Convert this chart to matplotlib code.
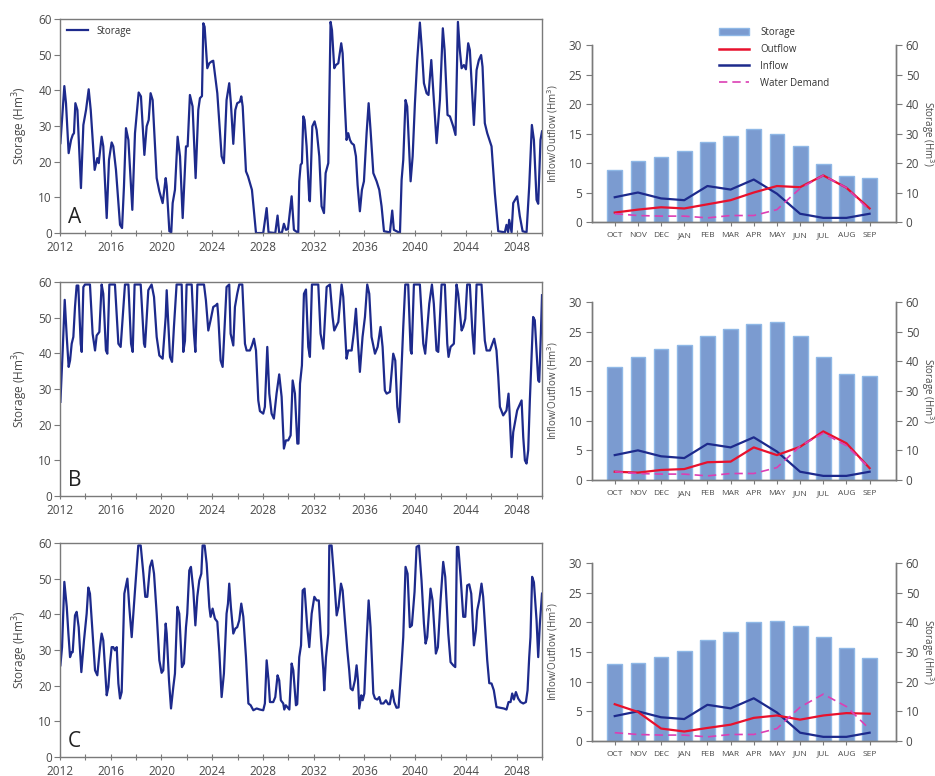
import numpy as np
import matplotlib.pyplot as plt
from matplotlib.patches import Patch
from matplotlib.lines import Line2D

plt.rcParams['font.family'] = ['Open Sans', 'DejaVu Sans']

# ---- 时间序列 (年, 库容 Hm3) ----
yr_A = [2012.03, 2012.13, 2012.34, 2012.47, 2012.68, 2012.87, 2013.0, 2013.1, 2013.21, 2013.37,
        2013.65, 2013.84, 2014.05, 2014.26, 2014.42, 2014.73, 2014.94, 2015.05, 2015.28, 2015.41,
        2015.68, 2015.86, 2016.07, 2016.2, 2016.41, 2016.73, 2016.89, 2017.04, 2017.2, 2017.39,
        2017.7, 2017.91, 2018.2, 2018.38, 2018.65, 2018.83, 2018.99, 2019.14, 2019.3, 2019.62,
        2019.83, 2020.09, 2020.33, 2020.41, 2020.62, 2020.77, 2020.88, 2021.06, 2021.27, 2021.46,
        2021.67, 2021.93, 2022.06, 2022.24, 2022.45, 2022.69, 2022.9, 2023.03, 2023.19, 2023.3,
        2023.4, 2023.61, 2023.77, 2023.95, 2024.08, 2024.4, 2024.74, 2024.92, 2025.13, 2025.24,
        2025.34, 2025.47, 2025.66, 2025.82, 2025.97, 2026.18, 2026.29, 2026.4, 2026.66, 2026.82,
        2027.13, 2027.45, 2028.02, 2028.29, 2028.44, 2028.97, 2029.15, 2029.28, 2029.5, 2029.65,
        2029.81, 2029.97, 2030.26, 2030.44, 2030.78, 2030.86, 2030.97, 2031.07, 2031.18, 2031.28,
        2031.44, 2031.65, 2031.7, 2031.89, 2032.07, 2032.23, 2032.44, 2032.62, 2032.81, 2032.94,
        2033.15, 2033.33, 2033.44, 2033.62, 2033.75, 2033.94, 2034.17, 2034.28, 2034.46, 2034.59,
        2034.72, 2034.86, 2034.99, 2035.17, 2035.33, 2035.46, 2035.64, 2035.8, 2035.96, 2036.17,
        2036.33, 2036.48, 2036.7, 2036.96, 2037.17, 2037.35, 2037.54, 2038.01, 2038.19, 2038.32,
        2038.8, 2038.93, 2039.06, 2039.24, 2039.37, 2039.64, 2039.8, 2039.98, 2040.16, 2040.37,
        2040.53, 2040.69, 2040.9, 2041.05, 2041.27, 2041.42, 2041.69, 2041.95, 2042.18, 2042.32,
        2042.55, 2042.74, 2043.0, 2043.18, 2043.37, 2043.52, 2043.66, 2043.84, 2044.0, 2044.18,
        2044.31, 2044.47, 2044.63, 2044.84, 2045.02, 2045.2, 2045.31, 2045.49, 2045.68, 2046.02,
        2046.28, 2046.55, 2047.07, 2047.2, 2047.33, 2047.41, 2047.6, 2047.73, 2048.04, 2048.25,
        2048.47, 2048.78, 2048.99, 2049.2, 2049.36, 2049.57, 2049.7, 2049.88, 2050.0]
st_A = [25.2, 30.3, 41.2, 36.4, 22.4, 26.1, 27.5, 28.0, 36.4, 34.5,
        12.6, 30.3, 34.5, 40.3, 34.5, 17.7, 21.0, 19.6, 27.0, 24.3,
        4.2, 20.5, 25.4, 24.3, 17.7, 2.3, 1.4, 13.0, 29.4, 26.1,
        6.5, 28.0, 39.4, 38.3, 21.9, 29.9, 31.7, 39.2, 37.3, 15.4,
        11.7, 8.4, 15.4, 13.1, 0.5, 0.2, 8.4, 12.1, 27.0, 21.5,
        4.2, 24.3, 24.3, 38.7, 35.5, 15.4, 34.5, 37.8, 38.4, 58.8,
        57.8, 46.2, 47.6, 48.1, 48.3, 39.2, 21.5, 19.6, 37.3, 39.7,
        42.0, 36.4, 25.0, 34.5, 36.4, 36.8, 38.3, 35.5, 17.3, 15.9,
        12.1, 0.0, 0.0, 7.0, 0.2, 0.0, 4.9, 0.0, 0.2, 2.6,
        0.9, 1.1, 10.3, 0.9, 0.0, 14.5, 19.1, 19.6, 32.7, 31.7,
        24.3, 9.3, 8.9, 29.9, 31.3, 28.9, 21.5, 7.5, 5.6, 16.8,
        19.6, 59.2, 56.9, 46.2, 47.1, 47.6, 53.2, 50.4, 35.5, 26.1,
        28.0, 26.1, 25.2, 24.7, 21.5, 13.5, 6.1, 12.1, 14.5, 28.0,
        36.4, 28.9, 16.8, 14.5, 12.1, 7.5, 0.5, 0.2, 6.3, 0.9,
        0.0, 14.9, 20.5, 37.3, 35.5, 14.5, 21.5, 36.4, 48.5, 59.0,
        51.3, 42.0, 39.2, 38.7, 48.5, 40.1, 25.2, 37.3, 57.4, 51.3,
        33.1, 32.7, 29.9, 27.5, 59.2, 51.3, 46.2, 47.1, 45.9, 53.2,
        51.3, 41.0, 30.3, 45.7, 48.5, 49.9, 46.6, 30.8, 28.0, 24.3,
        11.2, 0.5, 0.2, 2.3, 0.2, 3.7, 0.2, 8.4, 10.3, 4.7,
        0.5, 0.2, 13.1, 30.3, 26.1, 9.3, 8.2, 26.1, 28.5]

yr_B = [2012.03, 2012.21, 2012.37, 2012.53, 2012.68, 2012.79, 2012.92, 2013.05, 2013.18, 2013.31,
        2013.44, 2013.63, 2013.71, 2013.84, 2013.97, 2014.36, 2014.57, 2014.76, 2014.89, 2015.1,
        2015.28, 2015.41, 2015.62, 2015.73, 2015.89, 2016.33, 2016.6, 2016.78, 2017.12, 2017.39,
        2017.6, 2017.73, 2017.88, 2018.36, 2018.62, 2018.7, 2018.96, 2019.22, 2019.41, 2019.62,
        2019.83, 2020.09, 2020.33, 2020.41, 2020.51, 2020.67, 2020.83, 2020.98, 2021.19, 2021.59,
        2021.72, 2021.85, 2021.98, 2022.38, 2022.56, 2022.67, 2022.83, 2023.35, 2023.5, 2023.69,
        2023.87, 2024.08, 2024.3, 2024.4, 2024.48, 2024.66, 2024.82, 2025.13, 2025.34, 2025.45,
        2025.66, 2025.79, 2025.97, 2026.13, 2026.37, 2026.58, 2026.71, 2026.97, 2027.13, 2027.29,
        2027.45, 2027.63, 2027.76, 2028.02, 2028.15, 2028.34, 2028.5, 2028.68, 2028.86, 2029.07,
        2029.28, 2029.47, 2029.65, 2029.81, 2029.99, 2030.18, 2030.34, 2030.52, 2030.71, 2030.8,
        2030.92, 2031.07, 2031.23, 2031.39, 2031.57, 2031.7, 2031.86, 2032.36, 2032.54, 2032.76,
        2033.02, 2033.28, 2033.49, 2033.62, 2033.94, 2034.2, 2034.33, 2034.59, 2034.72, 2034.99,
        2035.17, 2035.33, 2035.46, 2035.64, 2035.85, 2036.04, 2036.22, 2036.38, 2036.56, 2036.83,
        2037.04, 2037.27, 2037.43, 2037.61, 2037.75, 2038.01, 2038.27, 2038.43, 2038.59, 2038.74,
        2038.85, 2039.06, 2039.22, 2039.45, 2039.64, 2039.72, 2039.9, 2040.37, 2040.64, 2040.79,
        2041.11, 2041.32, 2041.47, 2041.68, 2041.82, 2042.08, 2042.34, 2042.53, 2042.63, 2042.79,
        2043.05, 2043.26, 2043.39, 2043.66, 2043.79, 2043.95, 2044.1, 2044.31, 2044.52, 2044.65,
        2044.84, 2045.23, 2045.49, 2045.63, 2045.89, 2046.23, 2046.41, 2046.55, 2046.68, 2046.94,
        2047.2, 2047.36, 2047.46, 2047.6, 2047.73, 2048.04, 2048.39, 2048.52, 2048.65, 2048.78,
        2048.91, 2049.04, 2049.3, 2049.43, 2049.57, 2049.7, 2049.78, 2049.91, 2050.0]
st_B = [26.4, 40.8, 55.0, 44.6, 36.2, 38.0, 42.7, 44.6, 53.0, 59.0,
        59.0, 42.7, 40.4, 58.6, 59.3, 59.3, 45.5, 40.8, 45.0, 46.0,
        59.3, 56.7, 40.8, 39.9, 59.3, 59.3, 42.7, 41.8, 59.3, 59.3,
        42.7, 40.4, 59.3, 59.3, 42.7, 41.8, 57.7, 59.3, 55.8, 44.6,
        39.4, 38.5, 50.2, 57.7, 50.2, 39.0, 37.6, 47.4, 59.3, 59.3,
        40.4, 43.5, 59.3, 59.3, 45.5, 40.4, 59.3, 59.3, 54.9, 46.4,
        49.3, 53.0, 53.5, 53.9, 50.2, 38.0, 36.2, 58.6, 59.3, 45.5,
        42.2, 53.0, 56.7, 59.3, 59.3, 42.7, 40.8, 40.8, 42.2, 44.1,
        40.8, 26.8, 23.8, 23.1, 25.0, 41.8, 28.7, 23.1, 21.7, 28.7,
        34.1, 27.8, 13.3, 15.6, 15.6, 17.0, 32.4, 28.7, 14.7, 14.7,
        31.5, 36.6, 56.7, 57.9, 41.8, 39.0, 59.3, 59.3, 45.5, 41.3,
        58.6, 59.3, 50.2, 46.4, 48.8, 59.3, 55.8, 38.5, 40.8, 40.8,
        46.0, 52.5, 44.6, 34.8, 44.6, 50.2, 59.3, 56.7, 44.6, 39.9,
        41.8, 47.4, 41.8, 29.6, 28.7, 29.2, 39.9, 38.0, 25.0, 20.7,
        29.6, 47.4, 59.3, 59.3, 40.8, 39.9, 59.3, 59.3, 42.7, 39.9,
        53.9, 59.3, 53.9, 40.8, 40.4, 59.3, 59.3, 42.7, 39.0, 41.8,
        42.7, 59.3, 56.7, 46.4, 47.4, 49.7, 59.3, 59.3, 45.5, 39.9,
        59.3, 59.3, 43.6, 40.8, 40.8, 44.1, 40.8, 33.4, 25.0, 22.6,
        24.0, 28.7, 22.1, 10.9, 17.9, 24.0, 26.8, 16.5, 10.0, 9.1,
        12.8, 26.8, 50.2, 49.3, 40.8, 32.4, 32.0, 45.5, 56.3]

yr_C = [2012.03, 2012.16, 2012.34, 2012.53, 2012.66, 2012.79, 2012.92, 2013.0, 2013.18, 2013.31,
        2013.47, 2013.68, 2013.89, 2014.1, 2014.23, 2014.36, 2014.57, 2014.76, 2014.94, 2015.15,
        2015.28, 2015.41, 2015.68, 2015.81, 2015.94, 2016.07, 2016.2, 2016.33, 2016.47, 2016.6,
        2016.73, 2016.86, 2017.07, 2017.31, 2017.46, 2017.65, 2017.78, 2017.91, 2018.17, 2018.36,
        2018.57, 2018.72, 2018.88, 2019.09, 2019.25, 2019.41, 2019.62, 2019.83, 2020.01, 2020.14,
        2020.33, 2020.41, 2020.59, 2020.75, 2020.93, 2021.06, 2021.25, 2021.4, 2021.61, 2021.77,
        2021.93, 2022.03, 2022.19, 2022.32, 2022.51, 2022.67, 2022.82, 2022.98, 2023.14, 2023.24,
        2023.4, 2023.56, 2023.77, 2023.87, 2024.03, 2024.21, 2024.4, 2024.56, 2024.74, 2024.92,
        2025.13, 2025.24, 2025.34, 2025.47, 2025.66, 2025.82, 2025.97, 2026.13, 2026.29, 2026.45,
        2026.66, 2026.85, 2027.03, 2027.24, 2027.5, 2027.76, 2028.02, 2028.15, 2028.29, 2028.44,
        2028.55, 2028.81, 2028.97, 2029.15, 2029.28, 2029.41, 2029.6, 2029.68, 2029.8, 2030.08,
        2030.26, 2030.39, 2030.6, 2030.7, 2030.86, 2031.0, 2031.13, 2031.28, 2031.49, 2031.65,
        2031.84, 2032.05, 2032.23, 2032.4, 2032.57, 2032.76, 2032.83, 2032.97, 2033.15, 2033.23,
        2033.41, 2033.6, 2033.81, 2033.96, 2034.15, 2034.28, 2034.46, 2034.65, 2034.8, 2034.91,
        2035.07, 2035.25, 2035.38, 2035.49, 2035.59, 2035.75, 2035.86, 2035.99, 2036.17, 2036.33,
        2036.48, 2036.7, 2036.83, 2037.01, 2037.17, 2037.3, 2037.5, 2037.69, 2037.88, 2038.0,
        2038.19, 2038.35, 2038.53, 2038.69, 2038.93, 2039.06, 2039.24, 2039.4, 2039.58, 2039.74,
        2039.95, 2040.11, 2040.3, 2040.5, 2040.69, 2040.82, 2040.95, 2041.21, 2041.37, 2041.5,
        2041.63, 2041.79, 2042.0, 2042.21, 2042.37, 2042.61, 2042.79, 2043.0, 2043.16, 2043.29,
        2043.4, 2043.58, 2043.79, 2043.95, 2044.1, 2044.26, 2044.42, 2044.63, 2044.79, 2044.89,
        2045.05, 2045.23, 2045.36, 2045.55, 2045.68, 2045.84, 2046.02, 2046.2, 2046.41, 2046.68,
        2046.99, 2047.2, 2047.36, 2047.52, 2047.65, 2047.78, 2047.94, 2048.12, 2048.31, 2048.52,
        2048.73, 2048.86, 2048.99, 2049.09, 2049.22, 2049.36, 2049.57, 2049.7, 2049.83, 2050.0]
st_C = [25.7, 30.8, 49.1, 42.1, 34.6, 28.0, 29.4, 29.4, 39.7, 40.7,
        36.4, 23.8, 32.7, 40.2, 47.5, 45.8, 34.6, 24.3, 22.9, 30.8,
        34.6, 32.7, 17.3, 19.6, 26.2, 30.8, 30.8, 29.9, 30.8, 20.6,
        16.4, 18.2, 45.8, 50.0, 42.1, 33.6, 40.2, 46.7, 59.3, 59.3,
        51.4, 44.9, 44.9, 53.3, 55.1, 51.4, 40.2, 27.1, 23.6, 24.3,
        37.4, 34.6, 21.5, 13.6, 19.6, 23.4, 42.1, 40.2, 25.2, 26.2,
        36.4, 40.2, 52.3, 53.3, 46.7, 36.9, 44.9, 49.5, 51.4, 59.3,
        59.3, 54.2, 42.1, 39.3, 41.6, 38.8, 37.9, 29.4, 16.8, 23.4,
        40.2, 43.0, 48.6, 42.1, 34.6, 36.0, 36.4, 38.3, 43.0, 39.3,
        28.0, 15.0, 14.5, 13.1, 13.6, 13.3, 13.1, 15.0, 27.1, 21.5,
        15.4, 15.4, 16.8, 22.9, 21.5, 15.9, 15.0, 13.3, 14.5, 13.3,
        26.2, 24.3, 14.5, 14.8, 28.0, 31.3, 46.7, 47.2, 36.4, 30.8,
        40.2, 44.9, 43.9, 43.9, 33.6, 24.3, 18.7, 28.0, 34.6, 59.3,
        59.3, 50.5, 39.7, 42.1, 48.6, 46.7, 38.3, 29.9, 24.3, 19.2,
        18.7, 21.5, 25.7, 21.5, 13.6, 17.3, 15.9, 17.8, 32.7, 43.9,
        36.4, 17.8, 16.4, 16.1, 16.8, 15.0, 15.0, 15.9, 14.8, 14.8,
        18.7, 15.4, 13.8, 13.9, 26.2, 33.6, 53.3, 51.4, 36.4, 36.9,
        46.3, 58.9, 59.3, 49.5, 37.4, 31.8, 33.6, 47.2, 43.9, 36.4,
        29.0, 30.8, 43.9, 54.7, 50.5, 34.6, 26.6, 25.7, 25.2, 58.9,
        58.9, 50.5, 39.3, 39.3, 48.1, 48.4, 45.8, 31.3, 35.5, 41.1,
        43.9, 48.6, 44.9, 34.6, 27.1, 20.7, 20.6, 18.7, 14.0, 13.8,
        13.6, 13.3, 15.4, 15.4, 17.8, 16.1, 18.2, 16.4, 15.4, 15.0,
        15.4, 18.7, 28.0, 33.6, 50.5, 49.0, 38.3, 28.0, 37.4, 45.8]

# ---- 月均值 ----
months = ['OCT', 'NOV', 'DEC', 'JAN', 'FEB', 'MAR', 'APR', 'MAY', 'JUN', 'JUL', 'AUG', 'SEP']
inflow = [4.2, 5.0, 4.0, 3.7, 6.1, 5.5, 7.2, 4.8, 1.4, 0.7, 0.7, 1.4]
demand = [1.4, 1.1, 1.0, 1.0, 0.7, 1.1, 1.1, 2.1, 5.7, 7.9, 5.8, 2.0]
outflow_A = [1.6, 2.1, 2.5, 2.3, 3.0, 3.7, 5.0, 6.1, 5.9, 7.9, 5.8, 2.3]
outflow_B = [1.4, 1.25, 1.7, 1.85, 3.0, 3.1, 5.5, 4.2, 5.6, 8.2, 6.2, 2.0]
outflow_C = [6.2, 4.9, 2.1, 1.6, 2.2, 2.75, 3.9, 4.3, 3.6, 4.3, 4.7, 4.6]
storage_A = [17.8, 20.6, 22.2, 24.0, 27.2, 29.2, 31.4, 30.0, 25.8, 19.8, 15.6, 15.0]
storage_B = [38.0, 41.6, 44.2, 45.4, 48.4, 50.8, 52.6, 53.2, 48.6, 41.4, 35.8, 35.2]
storage_C = [26.0, 26.2, 28.2, 30.2, 34.2, 36.8, 40.0, 40.6, 38.6, 35.2, 31.2, 28.0]

navy = '#1d2a8c'
red = '#e8112d'
pink = '#dc3fb4'
barc = '#7b9bd0'
grey = '#7a7a7a'
txt = '#4a4a4a'

fig = plt.figure(figsize=(9.35, 7.76), dpi=100)

left_pos = [[0.0642, 0.6997, 0.5155, 0.2758],
            [0.0642, 0.3608, 0.5155, 0.2758],
            [0.0642, 0.0245, 0.5155, 0.2758]]
right_pos = [[0.6332, 0.7139, 0.3251, 0.2281],
             [0.6332, 0.3814, 0.3251, 0.2294],
             [0.6332, 0.0451, 0.3251, 0.2294]]

series = [(yr_A, st_A, 'A'), (yr_B, st_B, 'B'), (yr_C, st_C, 'C')]
monthly = [(storage_A, outflow_A), (storage_B, outflow_B), (storage_C, outflow_C)]

for i in range(3):
    # 左: 逐月库容过程
    yr, st, tag = series[i]
    ax = fig.add_axes(left_pos[i])
    ax.plot(yr, st, color=navy, lw=1.6, solid_joinstyle='round', label='Storage')
    ax.set_xlim(2012, 2050)
    ax.set_ylim(0, 60)
    ax.set_xticks(range(2012, 2050, 4))
    ax.set_xticks(range(2012, 2051, 2), minor=True)
    ax.set_yticks(range(0, 61, 10))
    ax.tick_params(axis='x', which='both', direction='inout', length=5, width=0.8,
                   colors=grey, labelcolor=txt, labelsize=8.5, pad=3)
    ax.tick_params(axis='y', direction='out', length=4, width=0.8, colors=grey,
                   labelcolor=txt, labelsize=8.5, pad=2)
    for s in ax.spines.values():
        s.set_color(grey)
        s.set_linewidth(1.0)
    ax.set_ylabel('Storage (Hm$^3$)', color=txt, fontsize=8.5, labelpad=6)
    ax.text(0.017, 0.045, tag, transform=ax.transAxes, fontsize=15, color='#222222')
    if i == 0:
        ax.legend(loc='upper left', frameon=False, fontsize=7, handlelength=2.2,
                  borderaxespad=0.3, labelcolor='#333333')

    # 右: 月均入流/出流/需水与库容
    storage, outflow = monthly[i]
    x = np.arange(len(months))
    ax1 = fig.add_axes(right_pos[i])
    ax2 = ax1.twinx()
    ax2.bar(x, storage, width=0.64, color=barc, edgecolor='#8fb8e6', linewidth=1.0)
    ax2.set_ylim(0, 60)
    ax2.set_yticks(range(0, 61, 10))
    ax1.set_zorder(ax2.get_zorder() + 1)
    ax1.patch.set_visible(False)
    ax1.plot(x, inflow, color=navy, lw=1.6)
    ax1.plot(x, outflow, color=red, lw=1.6)
    ax1.plot(x, demand, color=pink, lw=1.2, ls=(0, (5, 3)))
    ax1.set_ylim(0, 30)
    ax1.set_xlim(-0.98, 12.14)
    ax1.set_yticks(range(0, 31, 5))
    ax1.set_xticks(x)
    ax1.set_xticklabels(months)
    ax1.tick_params(axis='x', length=3, width=0.8, colors=grey, labelcolor=txt,
                    labelsize=6, pad=4)
    ax1.tick_params(axis='y', direction='out', length=4, width=0.8, colors=grey,
                    labelcolor=txt, labelsize=8.5, pad=3)
    ax2.tick_params(axis='y', direction='out', length=4, width=0.8, colors=grey,
                    labelcolor=txt, labelsize=8.5, pad=3)
    for a in (ax1, ax2):
        a.spines['top'].set_visible(False)
        for s in ('left', 'right', 'bottom'):
            a.spines[s].set_color(grey)
            a.spines[s].set_linewidth(1.0)
    ax1.set_ylabel('Inflow/Outflow (Hm$^3$)', color=txt, fontsize=7, labelpad=6)
    ax2.set_ylabel('Storage (Hm$^3$)', color=txt, fontsize=7, rotation=270, labelpad=12)

    if i == 0:
        handles = [Patch(facecolor=barc, edgecolor='#8fb8e6'),
                   Line2D([], [], color=red, lw=1.8),
                   Line2D([], [], color=navy, lw=1.8),
                   Line2D([], [], color=pink, lw=1.2, ls=(0, (5, 3)))]
        ax1.legend(handles, ['Storage', 'Outflow', 'Inflow', 'Water Demand'],
                   loc='upper left', bbox_to_anchor=(0.39, 1.15), frameon=False,
                   fontsize=7, handlelength=3.0, labelspacing=0.6,
                   handletextpad=1.2, labelcolor='#333333')

fig.savefig('out.png', dpi=100)
